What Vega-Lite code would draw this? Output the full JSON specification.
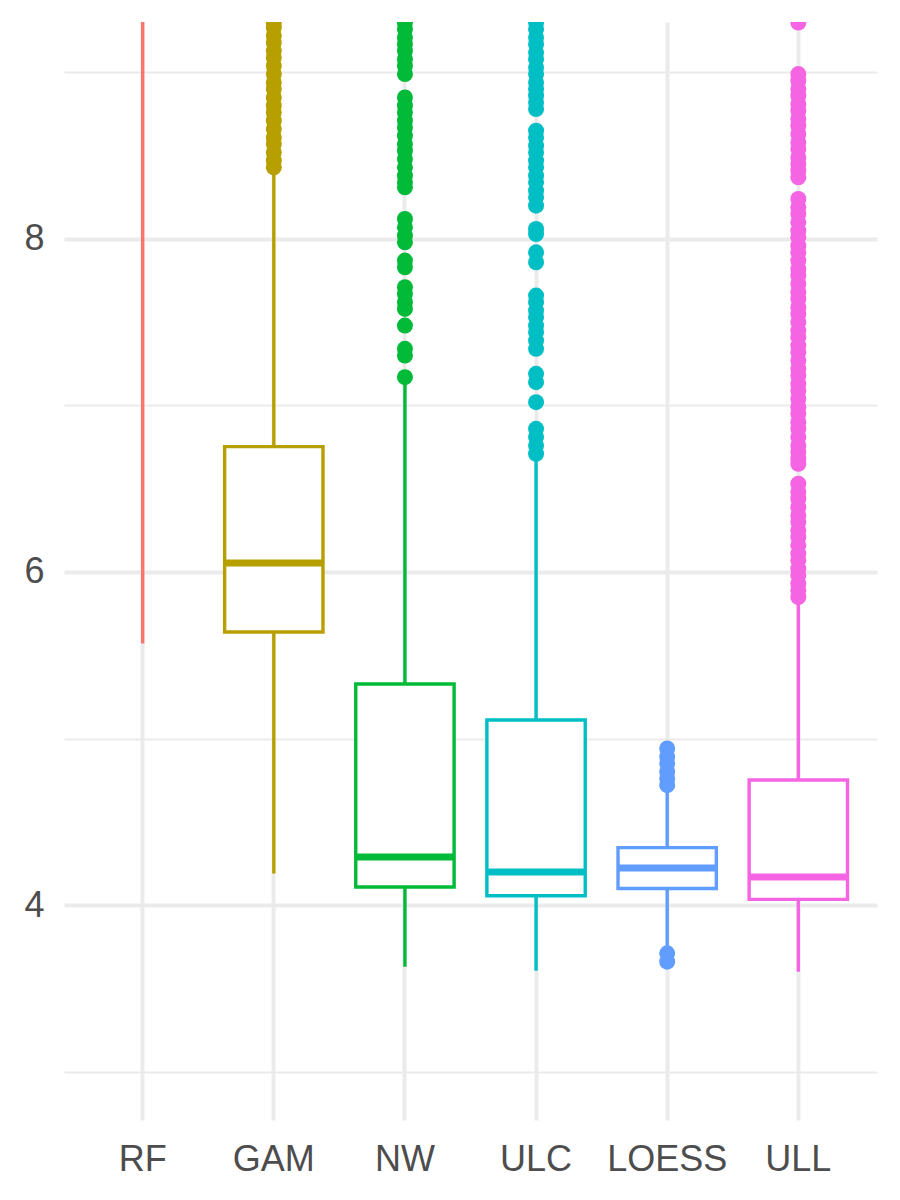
{
  "$schema": "https://vega.github.io/schema/vega-lite/v6.json",
  "width": 813,
  "height": 1098,
  "autosize": "none",
  "padding": {"left": 64, "top": 22, "right": 23, "bottom": 80},
  "background": "white",
  "config": {
    "view": {"stroke": null},
    "font": "Liberation Sans",
    "axis": {
      "domain": false,
      "ticks": false,
      "tickSize": 0,
      "title": null,
      "labelFont": "Liberation Sans",
      "labelFontSize": 36,
      "labelColor": "#4D4D4D",
      "gridColor": "#EBEBEB",
      "gridWidth": 4
    }
  },
  "datasets": {
    "summary": [
      {"method": "RF", "lower": 5.57, "q1": 10.0, "median": 11.0, "q3": 12.0, "upper": 14.0},
      {"method": "GAM", "lower": 4.19, "q1": 5.64, "median": 6.054, "q3": 6.753, "upper": 8.40},
      {"method": "NW", "lower": 3.63, "q1": 4.108, "median": 4.288, "q3": 5.327, "upper": 7.13},
      {"method": "ULC", "lower": 3.605, "q1": 4.056, "median": 4.198, "q3": 5.111, "upper": 6.68},
      {"method": "LOESS", "lower": 3.74, "q1": 4.099, "median": 4.222, "q3": 4.345, "upper": 4.69},
      {"method": "ULL", "lower": 3.60, "q1": 4.034, "median": 4.168, "q3": 4.751, "upper": 5.82}
    ],
    "outliers": [
      {"method": "GAM", "value": 9.30}, {"method": "GAM", "value": 9.27}, {"method": "GAM", "value": 9.22},
      {"method": "GAM", "value": 9.18}, {"method": "GAM", "value": 9.13}, {"method": "GAM", "value": 9.09},
      {"method": "GAM", "value": 9.04}, {"method": "GAM", "value": 8.99}, {"method": "GAM", "value": 8.94},
      {"method": "GAM", "value": 8.90}, {"method": "GAM", "value": 8.85}, {"method": "GAM", "value": 8.80},
      {"method": "GAM", "value": 8.76}, {"method": "GAM", "value": 8.71}, {"method": "GAM", "value": 8.66},
      {"method": "GAM", "value": 8.61}, {"method": "GAM", "value": 8.57}, {"method": "GAM", "value": 8.52},
      {"method": "GAM", "value": 8.47}, {"method": "GAM", "value": 8.43},

      {"method": "NW", "value": 9.30}, {"method": "NW", "value": 9.26}, {"method": "NW", "value": 9.21},
      {"method": "NW", "value": 9.17}, {"method": "NW", "value": 9.13}, {"method": "NW", "value": 9.08},
      {"method": "NW", "value": 9.04}, {"method": "NW", "value": 8.99},
      {"method": "NW", "value": 8.85}, {"method": "NW", "value": 8.80}, {"method": "NW", "value": 8.76},
      {"method": "NW", "value": 8.71}, {"method": "NW", "value": 8.67}, {"method": "NW", "value": 8.62},
      {"method": "NW", "value": 8.57}, {"method": "NW", "value": 8.53}, {"method": "NW", "value": 8.48},
      {"method": "NW", "value": 8.43}, {"method": "NW", "value": 8.38}, {"method": "NW", "value": 8.34},
      {"method": "NW", "value": 8.31},
      {"method": "NW", "value": 8.12}, {"method": "NW", "value": 8.07}, {"method": "NW", "value": 8.02},
      {"method": "NW", "value": 7.98},
      {"method": "NW", "value": 7.87}, {"method": "NW", "value": 7.83},
      {"method": "NW", "value": 7.71}, {"method": "NW", "value": 7.67}, {"method": "NW", "value": 7.62},
      {"method": "NW", "value": 7.58},
      {"method": "NW", "value": 7.48},
      {"method": "NW", "value": 7.34}, {"method": "NW", "value": 7.30},
      {"method": "NW", "value": 7.17},

      {"method": "ULC", "value": 9.30}, {"method": "ULC", "value": 9.26}, {"method": "ULC", "value": 9.21},
      {"method": "ULC", "value": 9.17}, {"method": "ULC", "value": 9.12}, {"method": "ULC", "value": 9.08},
      {"method": "ULC", "value": 9.03}, {"method": "ULC", "value": 8.99}, {"method": "ULC", "value": 8.94},
      {"method": "ULC", "value": 8.90}, {"method": "ULC", "value": 8.86}, {"method": "ULC", "value": 8.82},
      {"method": "ULC", "value": 8.78},
      {"method": "ULC", "value": 8.65}, {"method": "ULC", "value": 8.61}, {"method": "ULC", "value": 8.56},
      {"method": "ULC", "value": 8.52}, {"method": "ULC", "value": 8.47}, {"method": "ULC", "value": 8.43},
      {"method": "ULC", "value": 8.38}, {"method": "ULC", "value": 8.34}, {"method": "ULC", "value": 8.29},
      {"method": "ULC", "value": 8.25}, {"method": "ULC", "value": 8.20},
      {"method": "ULC", "value": 8.06}, {"method": "ULC", "value": 8.03},
      {"method": "ULC", "value": 7.92}, {"method": "ULC", "value": 7.86},
      {"method": "ULC", "value": 7.66}, {"method": "ULC", "value": 7.62}, {"method": "ULC", "value": 7.57},
      {"method": "ULC", "value": 7.53}, {"method": "ULC", "value": 7.48}, {"method": "ULC", "value": 7.44},
      {"method": "ULC", "value": 7.39}, {"method": "ULC", "value": 7.34},
      {"method": "ULC", "value": 7.19}, {"method": "ULC", "value": 7.14},
      {"method": "ULC", "value": 7.02},
      {"method": "ULC", "value": 6.86}, {"method": "ULC", "value": 6.81}, {"method": "ULC", "value": 6.76},
      {"method": "ULC", "value": 6.71},

      {"method": "LOESS", "value": 4.94}, {"method": "LOESS", "value": 4.89}, {"method": "LOESS", "value": 4.85},
      {"method": "LOESS", "value": 4.80}, {"method": "LOESS", "value": 4.76}, {"method": "LOESS", "value": 4.72},
      {"method": "LOESS", "value": 3.71}, {"method": "LOESS", "value": 3.66},

      {"method": "ULL", "value": 9.30},
      {"method": "ULL", "value": 8.99}, {"method": "ULL", "value": 8.95}, {"method": "ULL", "value": 8.90},
      {"method": "ULL", "value": 8.86}, {"method": "ULL", "value": 8.81}, {"method": "ULL", "value": 8.77},
      {"method": "ULL", "value": 8.72}, {"method": "ULL", "value": 8.68}, {"method": "ULL", "value": 8.63},
      {"method": "ULL", "value": 8.58}, {"method": "ULL", "value": 8.54}, {"method": "ULL", "value": 8.49},
      {"method": "ULL", "value": 8.45}, {"method": "ULL", "value": 8.41}, {"method": "ULL", "value": 8.37},
      {"method": "ULL", "value": 8.24}, {"method": "ULL", "value": 8.19}, {"method": "ULL", "value": 8.15},
      {"method": "ULL", "value": 8.10}, {"method": "ULL", "value": 8.05}, {"method": "ULL", "value": 8.01},
      {"method": "ULL", "value": 7.96}, {"method": "ULL", "value": 7.92}, {"method": "ULL", "value": 7.87},
      {"method": "ULL", "value": 7.82}, {"method": "ULL", "value": 7.78}, {"method": "ULL", "value": 7.73},
      {"method": "ULL", "value": 7.68}, {"method": "ULL", "value": 7.64}, {"method": "ULL", "value": 7.59},
      {"method": "ULL", "value": 7.55}, {"method": "ULL", "value": 7.50}, {"method": "ULL", "value": 7.45},
      {"method": "ULL", "value": 7.41}, {"method": "ULL", "value": 7.36}, {"method": "ULL", "value": 7.32},
      {"method": "ULL", "value": 7.27}, {"method": "ULL", "value": 7.22}, {"method": "ULL", "value": 7.18},
      {"method": "ULL", "value": 7.13}, {"method": "ULL", "value": 7.09}, {"method": "ULL", "value": 7.04},
      {"method": "ULL", "value": 6.99}, {"method": "ULL", "value": 6.95}, {"method": "ULL", "value": 6.90},
      {"method": "ULL", "value": 6.86}, {"method": "ULL", "value": 6.81}, {"method": "ULL", "value": 6.76},
      {"method": "ULL", "value": 6.72}, {"method": "ULL", "value": 6.68}, {"method": "ULL", "value": 6.65},
      {"method": "ULL", "value": 6.53}, {"method": "ULL", "value": 6.48}, {"method": "ULL", "value": 6.44},
      {"method": "ULL", "value": 6.39}, {"method": "ULL", "value": 6.34}, {"method": "ULL", "value": 6.30},
      {"method": "ULL", "value": 6.25}, {"method": "ULL", "value": 6.21}, {"method": "ULL", "value": 6.16},
      {"method": "ULL", "value": 6.11}, {"method": "ULL", "value": 6.07}, {"method": "ULL", "value": 6.02},
      {"method": "ULL", "value": 5.98}, {"method": "ULL", "value": 5.93}, {"method": "ULL", "value": 5.89},
      {"method": "ULL", "value": 5.85}
    ]
  },
  "encoding": {
    "x": {
      "field": "method",
      "type": "nominal",
      "sort": ["RF", "GAM", "NW", "ULC", "LOESS", "ULL"],
      "scale": {"paddingInner": 0.25, "paddingOuter": 0.225},
      "axis": {"labelAngle": 0, "labelPadding": 22, "bandPosition": 0.5, "grid": true}
    }
  },
  "layer": [
    {
      "data": {"name": "summary"},
      "mark": {"type": "rule", "strokeWidth": 3.4, "clip": true},
      "encoding": {
        "y": {
          "field": "lower",
          "type": "quantitative",
          "scale": {"domain": [2.709, 9.303], "nice": false, "zero": false},
          "axis": {
            "values": [3, 4, 5, 6, 7, 8, 9],
            "format": "d",
            "labelPadding": 20,
            "labelExpr": "datum.value % 2 === 0 ? datum.label : ''",
            "gridWidth": {"condition": {"test": "datum.value % 2 === 0", "value": 4}, "value": 2.2}
          }
        },
        "y2": {"field": "upper"},
        "color": {
          "field": "method",
          "type": "nominal",
          "scale": {
            "domain": ["RF", "GAM", "NW", "ULC", "LOESS", "ULL"],
            "range": ["#F8766D", "#B79F00", "#00BA38", "#00BFC4", "#619CFF", "#F564E3"]
          },
          "legend": null
        }
      }
    },
    {
      "data": {"name": "summary"},
      "mark": {"type": "bar", "fill": "white", "strokeWidth": 3.4, "clip": true},
      "encoding": {
        "y": {"field": "q1", "type": "quantitative"},
        "y2": {"field": "q3"},
        "stroke": {
          "field": "method",
          "type": "nominal",
          "scale": {
            "domain": ["RF", "GAM", "NW", "ULC", "LOESS", "ULL"],
            "range": ["#F8766D", "#B79F00", "#00BA38", "#00BFC4", "#619CFF", "#F564E3"]
          },
          "legend": null
        }
      }
    },
    {
      "data": {"name": "summary"},
      "mark": {"type": "tick", "size": 98, "thickness": 7, "opacity": 1, "clip": true},
      "encoding": {
        "y": {"field": "median", "type": "quantitative"},
        "color": {"field": "method", "type": "nominal", "legend": null}
      }
    },
    {
      "data": {"name": "outliers"},
      "mark": {"type": "point", "filled": true, "opacity": 1, "size": 256, "clip": true},
      "encoding": {
        "y": {"field": "value", "type": "quantitative"},
        "color": {"field": "method", "type": "nominal", "legend": null}
      }
    }
  ]
}
